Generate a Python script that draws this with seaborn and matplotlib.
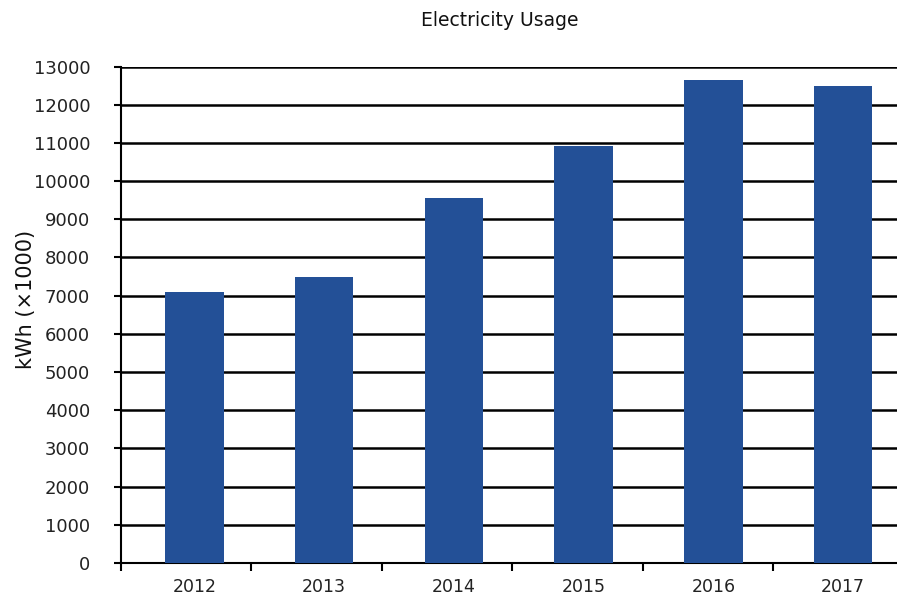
import matplotlib
matplotlib.use("Agg")
import matplotlib.pyplot as plt
import seaborn as sns
import pandas as pd
import numpy as np
from matplotlib.ticker import FixedLocator

years = ["2012", "2013", "2014", "2015", "2016", "2017"]
usage = [7100, 7490, 9560, 10930, 12650, 12500]
yticks = list(range(0, 13001, 1000))

sns.set_theme(style="white")
plt.rcParams['font.family'] = ['DejaVu Sans']

df = pd.DataFrame({"year": years, "usage": usage})

W, H = 897, 595
fig = plt.figure(figsize=(W / 100, H / 100), dpi=100)
ax = fig.add_axes([120.7 / W, (H - 563) / H, (904 - 120.7) / W, (563 - 66.5) / H])

sns.barplot(data=df, x="year", y="usage", color="#235097", saturation=1,
            width=0.451, linewidth=0, ax=ax, zorder=3)

ax.set_xlim(-0.569, 5.47)
ax.set_ylim(0, 13000)
ax.set_yticks(yticks)
ax.set_yticklabels([str(v) for v in yticks], fontsize=13, color="#222222")
ax.set_xticks(range(len(years)))
ax.set_xticklabels(years, fontsize=12.5, color="#222222")
ax.xaxis.set_minor_locator(FixedLocator(-0.569 + 1.006 * np.arange(len(years))))
ax.tick_params(axis="x", which="major", bottom=True, length=0, pad=11)
ax.tick_params(axis="x", which="minor", bottom=True, length=6, width=1.5,
               color="black", direction="out")
ax.tick_params(axis="y", which="major", left=True, length=5, width=1.5,
               color="black", direction="out", pad=17)

ax.grid(axis="y", color="black", linewidth=1.8, zorder=1)
ax.set_axisbelow(True)
for s in ["top", "right"]:
    ax.spines[s].set_visible(False)
for s in ["left", "bottom"]:
    ax.spines[s].set_color("black")
    ax.spines[s].set_linewidth(1.5)

ax.set_xlabel("")
ax.set_ylabel("kWh (×1000)", fontsize=15, color="#111111")
ax.yaxis.set_label_coords(-(120.7 - 36) / (904 - 120.7), (563 - 299) / (563 - 66.5))

fig.text(500 / W, 1 - 21 / H, "Electricity Usage", ha="center", va="center",
         fontsize=13.5, color="#111111")

fig.savefig("out.png", dpi=100)
